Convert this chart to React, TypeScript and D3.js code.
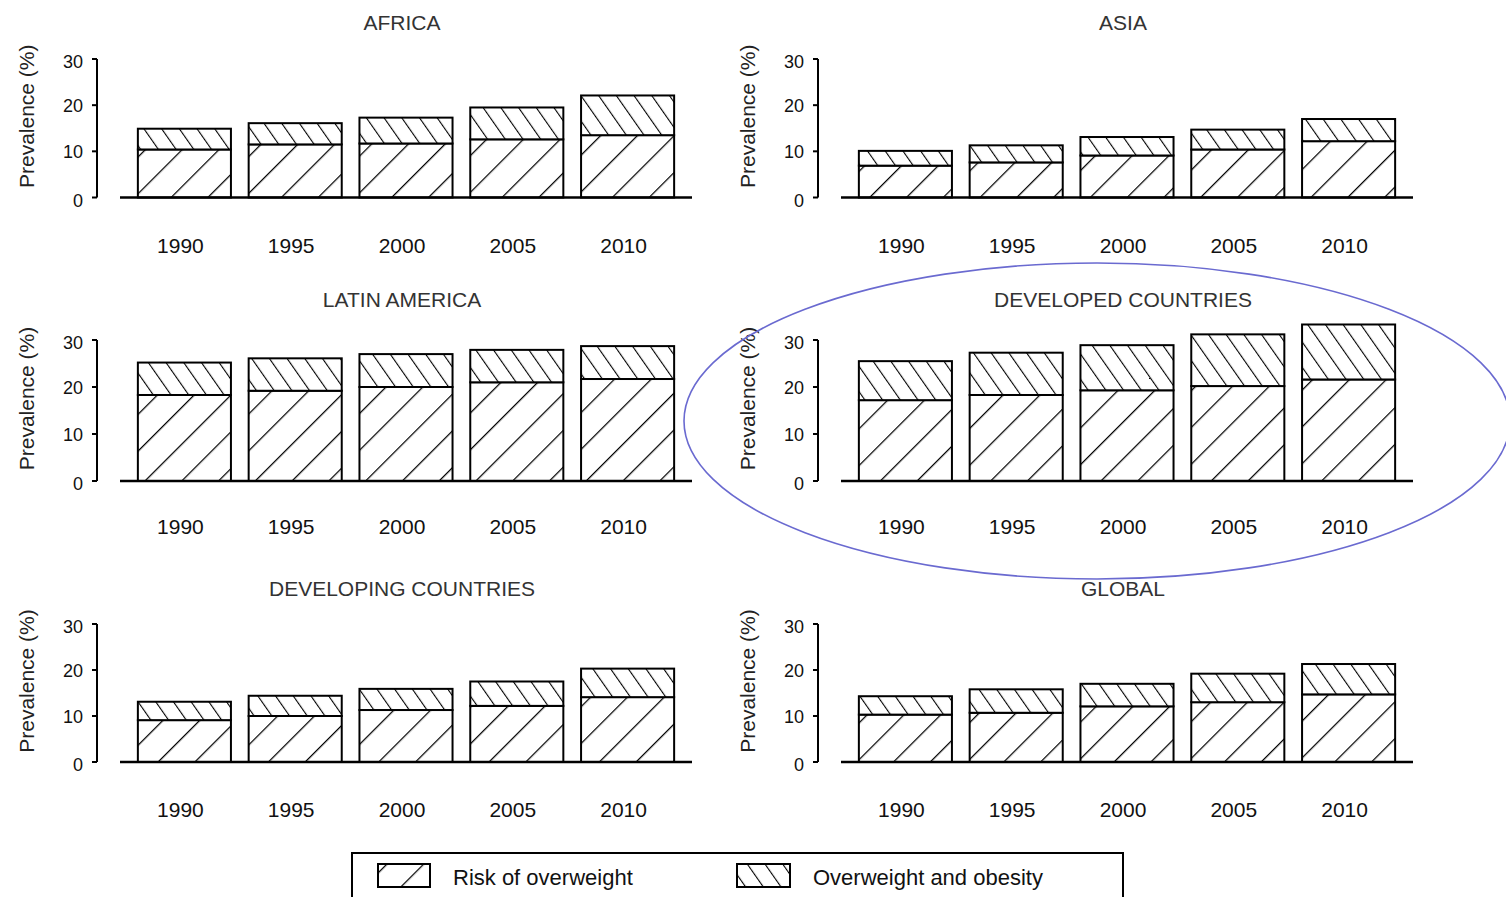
import React from "react";
import * as d3 from "d3";

const years = ["1990", "1995", "2000", "2005", "2010"];
const regionNames = ["AFRICA", "ASIA", "LATIN AMERICA", "DEVELOPED COUNTRIES", "DEVELOPING COUNTRIES", "GLOBAL"];
const yTicks = [0, 10, 20, 30];
const seriesLabels = ["Risk of overweight", "Overweight and obesity"];

// Risk of overweight (%) per region
const riskAfrica = [10.4, 11.5, 11.7, 12.6, 13.5];
const riskAsia = [6.9, 7.6, 9.1, 10.4, 12.2];
const riskLatin = [18.3, 19.2, 20.0, 21.0, 21.7];
const riskDeveloped = [17.2, 18.3, 19.3, 20.2, 21.6];
const riskDeveloping = [9.1, 10.0, 11.3, 12.2, 14.1];
const riskGlobal = [10.3, 10.7, 12.1, 13.0, 14.7];

// Overweight and obesity (%) per region (stacked on top)
const obeseAfrica = [4.5, 4.6, 5.6, 6.9, 8.6];
const obeseAsia = [3.2, 3.7, 4.0, 4.3, 4.8];
const obeseLatin = [6.9, 6.9, 7.0, 6.9, 7.0];
const obeseDeveloped = [8.3, 9.0, 9.6, 11.0, 11.7];
const obeseDeveloping = [4.0, 4.4, 4.6, 5.3, 6.2];
const obeseGlobal = [4.0, 5.1, 4.9, 6.2, 6.6];

const riskByRegion = [riskAfrica, riskAsia, riskLatin, riskDeveloped, riskDeveloping, riskGlobal];
const obeseByRegion = [obeseAfrica, obeseAsia, obeseLatin, obeseDeveloped, obeseDeveloping, obeseGlobal];

const W = 1506;
const H = 897;
const FONT = "'Liberation Sans', Arial, sans-serif";

const colOffsets = [0, 721];
const rows = [
  { top: 59, bottom: 197.5, title: 22, yearY: 245 },
  { top: 340, bottom: 481, title: 299, yearY: 526 },
  { top: 624, bottom: 762, title: 588, yearY: 809 },
];

function Panel({ idx }: { idx: number }) {
  const col = idx % 2;
  const row = rows[Math.floor(idx / 2)];
  const ox = colOffsets[col];
  const axisX = 97 + ox;
  const x = d3
    .scaleBand<string>()
    .domain(years)
    .range([129 + ox, 683 + ox])
    .paddingInner(0.16)
    .paddingOuter(0.08);
  const y = d3.scaleLinear().domain([0, 30]).range([row.bottom, row.top]);
  const table = years.map((yr, i) => ({
    year: yr,
    risk: riskByRegion[idx][i],
    obese: obeseByRegion[idx][i],
  }));
  const stacked = d3.stack<any>().keys(["risk", "obese"])(table);
  const fills = ["url(#hatchRisk)", "url(#hatchObese)"];
  const midY = (row.top + row.bottom) / 2;
  return (
    <g>
      <text
        x={402 + ox}
        y={row.title}
        textAnchor="middle"
        dominantBaseline="central"
        fontSize={21}
        fill="#333"
        fontFamily={FONT}
      >
        {regionNames[idx]}
      </text>
      <text
        transform={`translate(${26 + ox},${midY - 12}) rotate(-90)`}
        textAnchor="middle"
        dominantBaseline="central"
        fontSize={21}
        fill="#222"
        fontFamily={FONT}
      >
        Prevalence (%)
      </text>
      {/* y axis */}
      <line x1={axisX} x2={axisX} y1={y(30)} y2={y(0)} stroke="#000" strokeWidth={2} />
      {yTicks.map((t) => (
        <g key={t}>
          <line x1={axisX - 5} x2={axisX} y1={y(t)} y2={y(t)} stroke="#000" strokeWidth={2} />
          <text
            x={axisX - 14}
            y={y(t) + (t === 0 ? 3 : t === 30 ? 3 : 1)}
            textAnchor="end"
            dominantBaseline="central"
            fontSize={18}
            fill="#111"
            fontFamily={FONT}
          >
            {t}
          </text>
        </g>
      ))}
      {/* bars */}
      {stacked.map((s, si) =>
        s.map((d: any, i: number) => (
          <rect
            key={`${si}-${i}`}
            x={x(years[i])}
            y={y(d[1])}
            width={x.bandwidth()}
            height={y(d[0]) - y(d[1])}
            fill={fills[si]}
            stroke="#000"
            strokeWidth={2}
          />
        ))
      )}
      {/* baseline */}
      <line x1={120 + ox} x2={692 + ox} y1={y(0)} y2={y(0)} stroke="#000" strokeWidth={2.5} />
      {/* year labels */}
      {years.map((yr) => (
        <text
          key={yr}
          x={(x(yr) as number) + x.bandwidth() / 2 - 4}
          y={row.yearY}
          textAnchor="middle"
          dominantBaseline="central"
          fontSize={21}
          fill="#111"
          fontFamily={FONT}
        >
          {yr}
        </text>
      ))}
    </g>
  );
}

export default function App() {
  return (
    <svg
      width={W}
      height={H}
      style={{ position: "absolute", left: 0, top: 0, background: "#fff" }}
    >
      <defs>
        <pattern id="hatchRisk" patternUnits="userSpaceOnUse" width={26} height={26} patternTransform="rotate(45)">
          <rect width={26} height={26} fill="#fff" />
          <line x1={0} y1={0} x2={0} y2={26} stroke="#000" strokeWidth={2.5} />
        </pattern>
        <pattern id="hatchObese" patternUnits="userSpaceOnUse" width={14.5} height={14.5} patternTransform="rotate(-35)">
          <rect width={14.5} height={14.5} fill="#fff" />
          <line x1={0} y1={0} x2={0} y2={14.5} stroke="#000" strokeWidth={2.2} />
        </pattern>
      </defs>
      <rect width={W} height={H} fill="#fff" />
      {regionNames.map((_, i) => (
        <Panel key={i} idx={i} />
      ))}
      {/* legend */}
      <rect x={352} y={853} width={771} height={60} fill="none" stroke="#000" strokeWidth={2} />
      <rect x={378} y={864} width={52} height={23} fill="url(#hatchRisk)" stroke="#000" strokeWidth={2} />
      <text x={453} y={877} dominantBaseline="central" fontSize={22} fill="#111" fontFamily={FONT}>
        {seriesLabels[0]}
      </text>
      <rect x={737} y={864} width={53} height={23} fill="url(#hatchObese)" stroke="#000" strokeWidth={2} />
      <text x={813} y={877} dominantBaseline="central" fontSize={22} fill="#111" fontFamily={FONT}>
        {seriesLabels[1]}
      </text>
      {/* highlight ellipse */}
      <ellipse cx={1097} cy={421} rx={413} ry={158} fill="none" stroke="#6a6ad0" strokeWidth={1.6} />
    </svg>
  );
}
